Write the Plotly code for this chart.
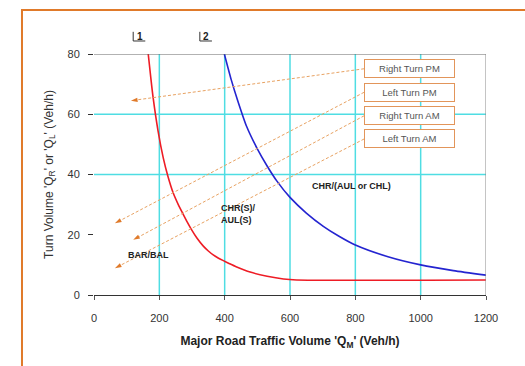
import plotly.graph_objects as go

# Warrant boundary curves: turn volume vs major road volume
curve1_q = [166, 174, 181, 196, 212, 226, 242, 258, 273, 286, 299, 315, 334, 350, 365,
            380, 396, 415, 435, 478, 530, 580, 620, 1200]
curve1_v = [80, 72, 65.5, 54.5, 45.5, 39.5, 34, 30, 26.8, 24.1, 21.6, 18.9, 16.3, 14.6, 13.3,
            12.3, 11.4, 10.4, 9.4, 7.6, 6.2, 5.3, 5.0, 5.0]

curve2_q = [399, 420, 440, 467, 500, 529, 560, 600, 650, 702, 750, 800, 900, 1000, 1100, 1200]
curve2_v = [80, 71.5, 64.5, 56, 48.5, 43, 37.8, 32.4, 27.2, 22.8, 19.5, 16.6, 12.7, 10, 8.1, 6.6]

x_ticks = [0, 200, 400, 600, 800, 1000, 1200]
y_ticks = [0, 20, 40, 60, 80]
x_grid = [200, 400, 600, 800, 1000]
y_grid = [40, 60]

# Legend-style boxes and the dashed pointers leaving them
box_labels = ["Right Turn PM", "Left Turn PM", "Right Turn AM", "Left Turn AM"]
box_centre_q = 967
box_v = [75.1, 67.3, 59.5, 51.8]
pointer_start_q = [827, 827, 827, 827]
pointer_end_q = [113, 64, 120, 64]
pointer_end_v = [64.5, 23.8, 18.3, 8.9]

# Region labels
region_text = ["BAR/BAL", "CHR(S)/<br>AUL(S)", "CHR/(AUL or CHL)"]
region_q = [168, 382, 787]
region_v = [13.3, 26.9, 36.2]
region_anchor = ["center", "left", "center"]

# Boundary markers above the chart
marker_text = ["1", "2"]
marker_q = [120, 324]

RED = "#ee1c25"
BLUE = "#2424d0"
CYAN = "#4fdde3"
ORANGE = "#e07a2a"
POINTER = "#e8a262"
TXT = "#333333"
FONT = "Liberation Sans, Arial, sans-serif"

fig = go.Figure()

fig.add_trace(go.Scatter(x=curve1_q, y=curve1_v, mode="lines",
                         line=dict(color=RED, width=1.6, shape="spline", smoothing=0.6),
                         hoverinfo="skip"))
fig.add_trace(go.Scatter(x=curve2_q, y=curve2_v, mode="lines",
                         line=dict(color=BLUE, width=1.6, shape="spline", smoothing=0.6),
                         hoverinfo="skip"))

for sq, sv, eq, ev in zip(pointer_start_q, box_v, pointer_end_q, pointer_end_v):
    fig.add_trace(go.Scatter(
        x=[sq, eq], y=[sv, ev], mode="lines+markers",
        line=dict(color=POINTER, width=1, dash="3px,2px"),
        marker=dict(symbol=["circle", "arrow"], size=[0, 7], color=ORANGE,
                    opacity=[0, 1], angleref="previous", line=dict(width=0)),
        hoverinfo="skip", cliponaxis=False))

shapes = []
for q in x_grid:
    shapes.append(dict(type="line", xref="x", yref="y", x0=q, x1=q, y0=0, y1=80,
                       line=dict(color=CYAN, width=1.5), layer="below"))
for v in y_grid:
    shapes.append(dict(type="line", xref="x", yref="y", x0=0, x1=1200, y0=v, y1=v,
                       line=dict(color=CYAN, width=1.5), layer="below"))
# top and right frame of the plotting area
shapes.append(dict(type="line", xref="x", yref="y", x0=0, x1=1200, y0=80, y1=80,
                   line=dict(color="#666666", width=1)))
shapes.append(dict(type="line", xref="x", yref="y", x0=1200, x1=1200, y0=0, y1=80,
                   line=dict(color="#888888", width=1)))
# outer orange frame
shapes.append(dict(type="path", xref="paper", yref="paper",
                   path="M -0.1837,-0.35 L -0.1837,1.1826 L 1.15,1.1826",
                   line=dict(color=ORANGE, width=2)))
# boundary markers
for q in marker_q:
    shapes.append(dict(type="path", xref="x", yref="paper",
                       path=f"M {q},1.092 L {q},1.054 L {q + 37},1.054",
                       line=dict(color="#333333", width=1)))

annotations = []
for q, t in zip(marker_q, marker_text):
    annotations.append(dict(x=q + 4, y=1.073, xref="x", yref="paper", text=f"<b>{t}</b>",
                            showarrow=False, xanchor="left", yanchor="middle",
                            font=dict(family=FONT, size=10, color="#222222")))
for lab, v in zip(box_labels, box_v):
    annotations.append(dict(x=box_centre_q, y=v, xref="x", yref="y", text=lab,
                            showarrow=False, width=85, height=13, borderpad=2,
                            bordercolor="#e2955a", borderwidth=1, bgcolor="white",
                            font=dict(family=FONT, size=9.5, color="#555555")))
for t, q, v, a in zip(region_text, region_q, region_v, region_anchor):
    annotations.append(dict(x=q, y=v, xref="x", yref="y", text=f"<b>{t}</b>",
                            showarrow=False, xanchor=a, align="left",
                            font=dict(family=FONT, size=9, color="#222222")))

fig.update_layout(
    width=525, height=366,
    margin=dict(l=94, r=39, t=54, b=71),
    paper_bgcolor="white", plot_bgcolor="white",
    showlegend=False,
    font=dict(family=FONT, color=TXT),
    shapes=shapes, annotations=annotations,
    xaxis=dict(range=[0, 1200], tickvals=x_ticks, showgrid=False, zeroline=False,
               showline=True, linecolor="#333333", linewidth=1,
               ticks="outside", ticklen=4, tickcolor="#555555",
               ticklabelstandoff=9,
               tickfont=dict(size=11, color=TXT),
               title=dict(text="<b>Major Road Traffic Volume 'Q<sub>M</sub>' (Veh/h)</b>",
                          font=dict(size=12, color="#222222"), standoff=13)),
    yaxis=dict(range=[0, 80], tickvals=y_ticks, showgrid=False, zeroline=False,
               showline=False, ticks="outside", ticklen=5, tickcolor="#333333",
               ticklabelstandoff=6,
               tickfont=dict(size=11, color=TXT),
               title=dict(text="Turn Volume 'Q<sub>R</sub>' or 'Q<sub>L</sub>' (Veh/h)",
                          font=dict(size=12, color="#333333"), standoff=11)),
)

fig.write_html("out.html")
